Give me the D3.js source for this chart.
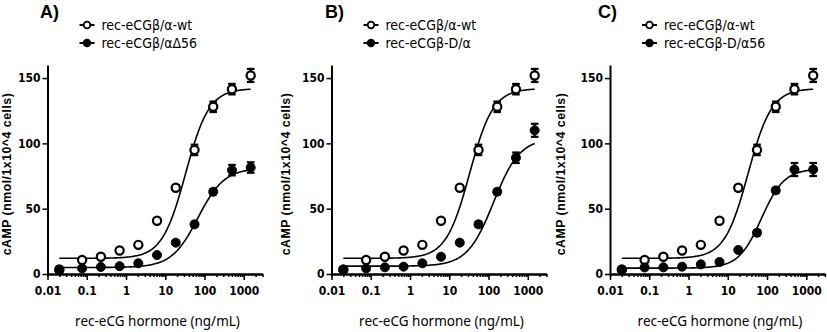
<!DOCTYPE html>
<html>
<head>
<meta charset="utf-8">
<script src="https://cdn.jsdelivr.net/npm/d3@7"></script>
<style>
    body { margin: 0; background: #fff; }
    svg { display: block; }
    .narrow { font-family: "Liberation Sans Narrow", "DejaVu Sans Condensed", "Arial Narrow", sans-serif; }
</style>
</head>
<body>
<svg width="827" height="332"></svg>
<script>
// hormone doses (ng/mL), 3-fold dilutions
const doses = [0.02, 0.0762, 0.229, 0.686, 2.06, 6.17, 18.5, 55.6, 166.7, 500, 1500]

// cAMP response, wild type (same in every panel)
const wtMean = [3.5, 10.7, 13.2, 18, 22.3, 40.8, 66, 95, 128, 141.5, 152]
const wtErr  = [1, 1, 1, 1, 1, 1.5, 2, 4, 4, 4, 5]

// cAMP response, mutants
const delta56Mean = [2.8, 4.3, 5.4, 6, 8.2, 14.5, 24, 38, 63, 79.5, 81.5]
const delta56Err  = [1, 1, 1, 1, 1, 1, 1.5, 2, 2, 4, 4]
const betaDMean   = [3, 4.3, 5.1, 5.6, 8.2, 13.2, 24, 38, 63, 89, 110]
const betaDErr    = [1, 1, 1, 1, 1, 1, 1.5, 2, 2, 4, 5]
const betaD56Mean = [3, 5, 5.1, 5.6, 7.4, 9.2, 18.4, 31.6, 64, 80, 80]
const betaD56Err  = [1, 1, 1, 1, 1, 1, 1.5, 2, 2, 5, 5]

// four-parameter logistic fits: [bottom, top, EC50, hill]
const wtFit      = [12, 142, 33, 1.45]
const delta56Fit = [5, 81, 68, 1.3]
const betaDFit   = [6, 104, 135, 1.3]
const betaD56Fit = [4.5, 80.5, 72, 1.5]

const panelNames = ["A)", "B)", "C)"]
const wtLabel = "rec-eCGβ/α-wt"
const mutantLabels = ["rec-eCGβ/αΔ56", "rec-eCGβ-D/α", "rec-eCGβ-D/α56"]
const mutantMeans = [delta56Mean, betaDMean, betaD56Mean]
const mutantErrs = [delta56Err, betaDErr, betaD56Err]
const mutantFits = [delta56Fit, betaDFit, betaD56Fit]

const xTicks = [0.01, 0.1, 1, 10, 100, 1000]
const xTickLabels = ["0.01", "0.1", "1", "10", "100", "1000"]
const yTicks = [0, 50, 100, 150]

const svg = d3.select("svg")

function logistic(fit, x){
    const [bottom, top, ec50, hill] = fit
    return bottom + (top - bottom) / (1 + Math.pow(ec50 / x, hill))
}

function addAxes(g, xScale, yScale){
    const xMinor = d3.axisBottom(xScale).tickValues(xScale.ticks()).tickSize(3).tickSizeOuter(0).tickFormat("")
    const xMajor = d3.axisBottom(xScale).tickValues(xTicks).tickSize(6).tickSizeOuter(0)
        .tickFormat((d, i) => xTickLabels[i])
    const yAxis = d3.axisLeft(yScale).tickValues(yTicks).tickSize(5).tickSizeOuter(0)

    g.append("g").attr("transform", `translate(0, ${yScale(0)})`).call(xMinor)
    const xg = g.append("g").attr("transform", `translate(0, ${yScale(0)})`).call(xMajor)
    const yg = g.append("g").attr("transform", `translate(${xScale.range()[0]}, 0)`).call(yAxis)

    g.selectAll(".domain").attr("stroke", "#000").attr("stroke-width", 2)
    g.selectAll(".tick line").attr("stroke", "#000").attr("stroke-width", 1.5)

    xg.selectAll("text")
        .attr("class", "narrow")
        .attr("y", 12)
        .style("font-size", "12px")
        .style("font-weight", "bold")
        .attr("fill", "#000")
    yg.selectAll("text")
        .attr("class", "narrow")
        .attr("x", -7)
        .style("font-size", "12px")
        .style("font-weight", "bold")
        .attr("fill", "#000")
}

function addSeries(g, xScale, yScale, means, errs, fit, open){
    const samples = d3.range(0, 201).map(i => Math.pow(10, Math.log10(doses[0]) + i / 200 * (Math.log10(doses[doses.length - 1]) - Math.log10(doses[0]))))
    const curve = d3.line()
        .x(d => xScale(d))
        .y(d => yScale(logistic(fit, d)))

    g.append("path")
        .attr("d", curve(samples))
        .attr("fill", "none")
        .attr("stroke", "#000")
        .attr("stroke-width", 1.6)

    const pts = g.append("g")
        .selectAll("g")
        .data(doses)
        .enter()
        .append("g")

    pts.each(function(d, i){
        const x = xScale(d)
        const sel = d3.select(this)
        sel.append("line")
            .attr("x1", x).attr("x2", x)
            .attr("y1", yScale(means[i] - errs[i]))
            .attr("y2", yScale(means[i] + errs[i]))
            .attr("stroke", "#000").attr("stroke-width", 2.2)
        ;[means[i] - errs[i], means[i] + errs[i]].forEach(v => {
            sel.append("line")
                .attr("x1", x - 3.8).attr("x2", x + 3.8)
                .attr("y1", yScale(v)).attr("y2", yScale(v))
                .attr("stroke", "#000").attr("stroke-width", 2.2)
        })
        sel.append("circle")
            .attr("cx", x)
            .attr("cy", yScale(means[i]))
            .attr("r", open ? 4.1 : 4.5)
            .attr("fill", open ? "#fff" : "#000")
            .attr("stroke", "#000")
            .attr("stroke-width", open ? 2.2 : 1)
    })
}

function addLegend(g, x0, labels){
    labels.forEach((label, i) => {
        const y = 25 + i * 18
        g.append("line")
            .attr("x1", x0 + 32).attr("x2", x0 + 47)
            .attr("y1", y).attr("y2", y)
            .attr("stroke", "#000").attr("stroke-width", 2)
        g.append("circle")
            .attr("cx", x0 + 39.5).attr("cy", y)
            .attr("r", 3.3)
            .attr("fill", i == 0 ? "#fff" : "#000")
            .attr("stroke", "#000").attr("stroke-width", 1.8)
        g.append("text")
            .attr("class", "narrow")
            .attr("x", x0 + 54).attr("y", y + 5)
            .style("font-size", "14px")
            .text(label)
    })
}

function drawPanel(i){
    const x0 = [47.5, 331.5, 610][i]
    const g = svg.append("g")

    const xScale = d3.scaleLog().domain([0.01, 3000]).range([x0, x0 + 215])
    const yScale = d3.scaleLinear().domain([0, 160]).range([274, 65])

    addAxes(g, xScale, yScale)
    addSeries(g, xScale, yScale, wtMean, wtErr, wtFit, true)
    addSeries(g, xScale, yScale, mutantMeans[i], mutantErrs[i], mutantFits[i], false)
    addLegend(g, x0, [wtLabel, mutantLabels[i]])

    g.append("text")
        .attr("x", [40, 325, 598][i])
        .attr("y", 18)
        .style("font-family", "Liberation Sans, Arial, sans-serif")
        .style("font-weight", "bold")
        .style("font-size", "18px")
        .text(panelNames[i])

    g.append("text")
        .attr("transform", `translate(${[11, 290, 565][i]}, 174) rotate(-90)`)
        .attr("text-anchor", "middle")
        .style("font-family", "Liberation Sans, Arial, sans-serif")
        .style("font-weight", "bold")
        .style("font-size", "12.3px")
        .style("letter-spacing", "0.5px")
        .text("cAMP (nmol/1x10^4 cells)")

    g.append("text")
        .attr("x", x0 + 110)
        .attr("y", 326)
        .attr("text-anchor", "middle")
        .style("font-family", "Noto Sans, Open Sans, sans-serif")
        .style("font-size", "13.5px")
        .text("rec-eCG hormone (ng/mL)")
}

panelNames.forEach((d, i) => drawPanel(i))
</script>
</body>
</html>
